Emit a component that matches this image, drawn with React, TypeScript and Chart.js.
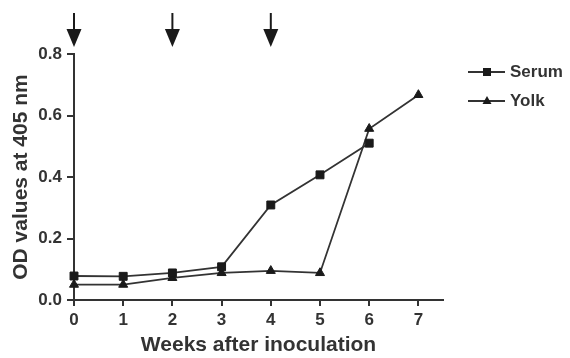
import React, { useEffect, useRef } from "react";
import { Chart, registerables } from "chart.js";

Chart.register(...registerables);

const serumWeeks = [0, 1, 2, 3, 4, 5, 6];
const serumValues = [0.078, 0.077, 0.088, 0.108, 0.309, 0.407, 0.51];
const yolkWeeks = [0, 1, 2, 3, 4, 5, 6, 7];
const yolkValues = [0.05, 0.05, 0.072, 0.088, 0.095, 0.088, 0.557, 0.667];
const xTicks = [0, 1, 2, 3, 4, 5, 6, 7];
const yTicks = [0, 0.2, 0.4, 0.6, 0.8];
const arrowWeeks = [0, 2, 4];
const seriesNames = ["Serum", "Yolk"];

const INK = "#333333";
const FONT = "'Liberation Sans', Arial, sans-serif";

const arrowsPlugin = {
  id: "arrows",
  afterDraw(chart: any) {
    const ctx = chart.ctx;
    const xs = chart.scales.x;
    ctx.save();
    ctx.fillStyle = "#1a1a1a";
    ctx.strokeStyle = "#1a1a1a";
    ctx.lineWidth = 2;
    arrowWeeks.forEach((w) => {
      const x = xs.getPixelForValue(w);
      ctx.beginPath();
      ctx.moveTo(x, 13);
      ctx.lineTo(x, 32);
      ctx.stroke();
      ctx.beginPath();
      ctx.moveTo(x - 7.5, 29);
      ctx.lineTo(x + 7.5, 29);
      ctx.lineTo(x, 47);
      ctx.closePath();
      ctx.fill();
    });
    ctx.restore();
  },
};

const legendPlugin = {
  id: "customLegend",
  afterDraw(chart: any) {
    const ctx = chart.ctx;
    ctx.save();
    chart.data.datasets.forEach((ds: any, i: number) => {
      const y = 72 + i * 29;
      ctx.strokeStyle = INK;
      ctx.lineWidth = 1.8;
      ctx.beginPath();
      ctx.moveTo(468, y);
      ctx.lineTo(505, y);
      ctx.stroke();
      ctx.fillStyle = "#1a1a1a";
      const cx = 487;
      ctx.beginPath();
      if (ds.pointStyle === "rect") {
        ctx.rect(cx - 4, y - 4, 8, 8);
      } else {
        ctx.moveTo(cx, y - 5);
        ctx.lineTo(cx + 4.5, y + 3);
        ctx.lineTo(cx - 4.5, y + 3);
        ctx.closePath();
      }
      ctx.fill();
      ctx.fillStyle = INK;
      ctx.font = `bold 17px ${FONT}`;
      ctx.textBaseline = "middle";
      ctx.textAlign = "left";
      ctx.fillText(ds.label, 510, y);
    });
    ctx.restore();
  },
};

export default function App() {
  const ref = useRef<HTMLCanvasElement>(null);
  useEffect(() => {
    if (!ref.current) return;
    const chart = new Chart(ref.current, {
      type: "line",
      data: {
        datasets: [
          {
            label: seriesNames[0],
            data: serumWeeks.map((w, i) => ({ x: w, y: serumValues[i] })),
            borderColor: INK,
            borderWidth: 1.8,
            pointStyle: "rect",
            pointRadius: 5.6,
            pointBackgroundColor: "#1a1a1a",
            pointBorderColor: "#1a1a1a",
            pointBorderWidth: 1,
            tension: 0,
            clip: false,
          },
          {
            label: seriesNames[1],
            data: yolkWeeks.map((w, i) => ({ x: w, y: yolkValues[i] })),
            borderColor: INK,
            borderWidth: 1.8,
            pointStyle: "triangle",
            pointRadius: 5.2,
            pointBackgroundColor: "#1a1a1a",
            pointBorderColor: "#1a1a1a",
            pointBorderWidth: 1,
            tension: 0,
            clip: false,
          },
        ] as any,
      },
      options: {
        responsive: false,
        animation: false,
        events: [],
        layout: { padding: { left: 0, top: 54, right: 127, bottom: 0 } },
        plugins: { legend: { display: false }, tooltip: { enabled: false } },
        scales: {
          x: {
            type: "linear",
            min: 0,
            max: 7.5,
            afterFit: (axis: any) => {
              axis.height = 58;
            },
            afterBuildTicks: (axis: any) => {
              axis.ticks = xTicks.map((v) => ({ value: v }));
            },
            border: { display: true, color: INK, width: 2 },
            grid: {
              display: true,
              drawOnChartArea: false,
              drawTicks: true,
              tickLength: 6,
              color: INK,
              lineWidth: 2,
            },
            ticks: {
              color: INK,
              padding: 4,
              font: { family: FONT, size: 17, weight: "bold" },
              maxRotation: 0,
            },
            title: {
              display: true,
              text: "Weeks after inoculation",
              color: INK,
              font: { family: FONT, size: 21, weight: "bold", lineHeight: 1.2 },
              padding: { top: 0, bottom: 0 },
            },
          },
          y: {
            type: "linear",
            min: 0,
            max: 0.8,
            afterFit: (axis: any) => {
              axis.width = 74;
            },
            afterBuildTicks: (axis: any) => {
              axis.ticks = yTicks.map((v) => ({ value: v }));
            },
            border: { display: true, color: INK, width: 2 },
            grid: {
              display: true,
              drawOnChartArea: false,
              drawTicks: true,
              tickLength: 7,
              color: INK,
              lineWidth: 2,
            },
            ticks: {
              color: INK,
              padding: 5,
              font: { family: FONT, size: 17, weight: "bold" },
              callback: (v: any) => Number(v).toFixed(1),
            },
            title: {
              display: true,
              text: "OD values at 405 nm",
              color: INK,
              font: { family: FONT, size: 21, weight: "bold", lineHeight: 1.2 },
              padding: { top: 9, bottom: 0 },
            },
          },
        },
      } as any,
      plugins: [arrowsPlugin, legendPlugin],
    });
    return () => chart.destroy();
  }, []);
  return (
    <div style={{ position: "absolute", left: 0, top: 0, width: 570, height: 358, background: "#fff" }}>
      <canvas ref={ref} width={570} height={358} />
    </div>
  );
}
